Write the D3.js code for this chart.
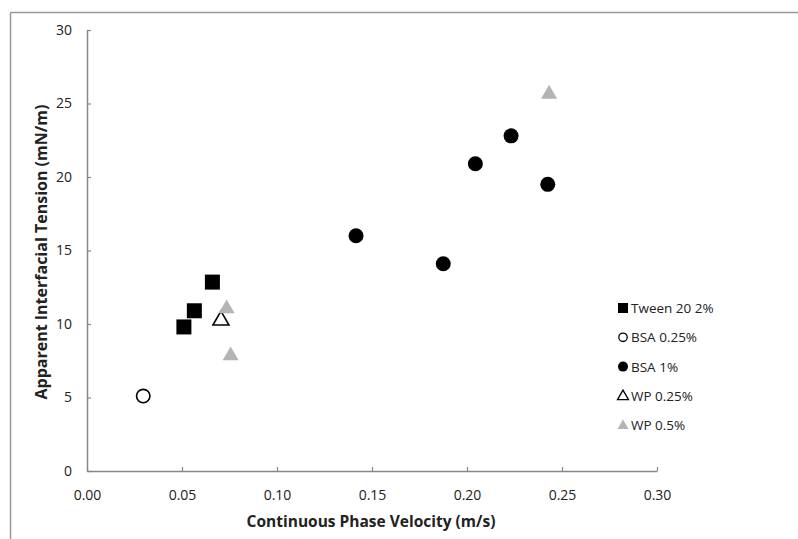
<!doctype html>
<html>
<head>
<meta charset="utf-8">
<style>
  body { margin: 0; background: #fff; }
  text { font-family: "Open Sans", sans-serif; fill: #222; }
</style>
</head>
<body>
<div id="chart"></div>
<script src="https://d3js.org/d3.v7.min.js"></script>
<script>
// data
var tweenX = [0.051, 0.0565, 0.066];
var tweenY = [9.8, 10.9, 12.85];
var bsa025X = [0.0296];
var bsa025Y = [5.1];
var bsa1X = [0.1416, 0.1875, 0.2044, 0.2232, 0.2425];
var bsa1Y = [16.0, 14.1, 20.9, 22.8, 19.5];
var wp025X = [0.0705];
var wp025Y = [10.3];
var wp05X = [0.0735, 0.0756, 0.2432];
var wp05Y = [11.1, 7.9, 25.7];
var seriesNames = ['Tween 20 2%', 'BSA 0.25%', 'BSA 1%', 'WP 0.25%', 'WP 0.5%'];
var xTicks = [0, 0.05, 0.10, 0.15, 0.20, 0.25, 0.30];
var yTicks = [0, 5, 10, 15, 20, 25, 30];

var width = 798, height = 539;
var svg = d3.select('#chart').append('svg')
  .attr('width', width).attr('height', height);

// frame (only top and left edges visible)
svg.append('line').attr('x1', 10.5).attr('x2', width).attr('y1', 12.5).attr('y2', 12.5)
  .attr('stroke', '#999').attr('stroke-width', 1.5);
svg.append('line').attr('x1', 10.5).attr('x2', 10.5).attr('y1', 12.5).attr('y2', height)
  .attr('stroke', '#999').attr('stroke-width', 1.5);

var x = d3.scaleLinear().domain([0, 0.30]).range([87, 657]);
var y = d3.scaleLinear().domain([0, 30]).range([471, 30]);

var xAxis = svg.append('g')
  .attr('transform', 'translate(0,' + y(0) + ')')
  .call(d3.axisBottom(x).tickValues(xTicks).tickSize(-4).tickSizeOuter(0)
    .tickFormat(d3.format('.2f')).tickPadding(19));
var yAxis = svg.append('g')
  .attr('transform', 'translate(' + x(0) + ',0)')
  .call(d3.axisLeft(y).tickValues(yTicks).tickSize(-4).tickSizeOuter(0).tickPadding(15));

[xAxis, yAxis].forEach(function(a) {
  a.select('.domain').attr('stroke', '#888').attr('stroke-width', 1.5);
  a.selectAll('.tick line').attr('stroke', '#888').attr('stroke-width', 1.2);
  a.selectAll('.tick text').style('font-size', '14px').attr('fill', '#222');
});

svg.append('text')
  .attr('x', 371).attr('y', 527)
  .attr('text-anchor', 'middle')
  .style('font-size', '15.5px').style('font-weight', 'bold')
  .text('Continuous Phase Velocity (m/s)');
svg.append('text')
  .attr('transform', 'translate(47,252) rotate(-90)')
  .attr('text-anchor', 'middle')
  .style('font-size', '16px').style('font-weight', 'bold')
  .text('Apparent Interfacial Tension (mN/m)');

var tri = d3.symbol().type(d3.symbolTriangle);
var series = [
  { xs: tweenX, ys: tweenY, shape: 'square', fill: '#000', stroke: 'none' },
  { xs: bsa025X, ys: bsa025Y, shape: 'circle', fill: '#fff', stroke: '#000' },
  { xs: bsa1X, ys: bsa1Y, shape: 'circle', fill: '#000', stroke: 'none' },
  { xs: wp025X, ys: wp025Y, shape: 'triangle', fill: '#fff', stroke: '#000' },
  { xs: wp05X, ys: wp05Y, shape: 'triangle', fill: '#b4b4b4', stroke: 'none' }
];

function drawMark(g, shape, size, fill, stroke) {
  if (shape === 'square') {
    g.append('rect').attr('x', -size / 2).attr('y', -size / 2)
      .attr('width', size).attr('height', size).attr('fill', fill);
  } else if (shape === 'circle') {
    g.append('circle').attr('r', size / 2 - (stroke === 'none' ? 0 : 0.8))
      .attr('fill', fill).attr('stroke', stroke).attr('stroke-width', 1.6);
  } else {
    var area = size * size * 0.433;
    g.append('path').attr('d', tri.size(area)())
      .attr('transform', 'translate(0,' + size * 0.05 + ')')
      .attr('fill', fill).attr('stroke', stroke).attr('stroke-width', 1.6);
  }
}

series.forEach(function(s, i) {
  s.xs.forEach(function(v, j) {
    var g = svg.append('g').attr('transform', 'translate(' + x(v) + ',' + y(s.ys[j]) + ')');
    drawMark(g, s.shape, s.shape === 'triangle' ? 16 : 15, s.fill, s.stroke);
  });
});

// legend
var legend = svg.append('g');
seriesNames.forEach(function(name, i) {
  var s = series[i];
  var ly = 308 + i * 29.3;
  var g = legend.append('g').attr('transform', 'translate(623,' + ly + ')');
  drawMark(g, s.shape, s.shape === 'triangle' ? 11 : 10, s.fill, s.stroke === 'none' ? 'none' : s.stroke);
  g.selectAll('circle,path').attr('stroke-width', 1.3);
  legend.append('text').attr('x', 631).attr('y', ly + 5)
    .style('font-size', '13.5px').text(name);
});
</script>
</body>
</html>
